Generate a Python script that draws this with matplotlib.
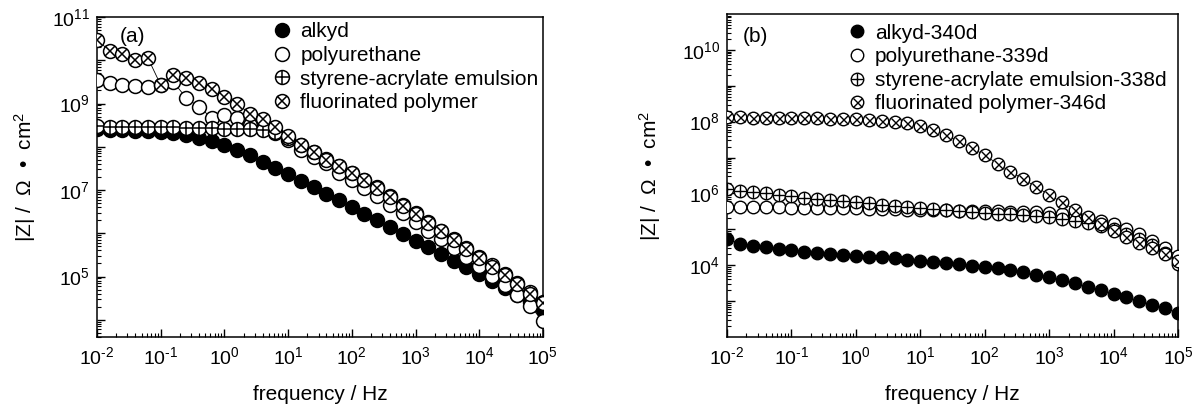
import matplotlib
matplotlib.use("Agg")
import matplotlib.pyplot as plt
from matplotlib.lines import Line2D
from matplotlib.legend_handler import HandlerTuple
from matplotlib.ticker import LogLocator, NullFormatter, FixedLocator, FixedFormatter

plt.rcParams['font.family'] = ['Liberation Sans', 'DejaVu Sans']
plt.rcParams['mathtext.fontset'] = 'custom'
plt.rcParams['mathtext.rm'] = 'Liberation Sans'
plt.rcParams['mathtext.it'] = 'Liberation Sans:italic'
plt.rcParams['mathtext.bf'] = 'Liberation Sans:bold'

# measurement frequencies, Hz (5 points per decade)
freq = [0.01, 0.0158, 0.0251, 0.0398, 0.0631,
        0.1, 0.158, 0.251, 0.398, 0.631,
        1, 1.58, 2.51, 3.98, 6.31,
        10, 15.8, 25.1, 39.8, 63.1,
        100, 158, 251, 398, 631,
        1000, 1580, 2510, 3980, 6310,
        1e4, 1.58e4, 2.51e4, 3.98e4, 6.31e4, 1e5]

# (a) initial |Z|, ohm cm^2
alkyd_a = [2.51e8, 2.45e8, 2.40e8, 2.34e8, 2.29e8, 2.19e8, 2.04e8, 1.86e8, 1.62e8, 1.38e8,
           1.10e8, 8.51e7, 6.31e7, 4.47e7, 3.16e7, 2.29e7, 1.62e7, 1.15e7, 8.13e6, 5.75e6,
           4.07e6, 2.82e6, 2.00e6, 1.38e6, 9.77e5, 6.76e5, 4.79e5, 3.31e5, 2.34e5, 1.62e5,
           1.12e5, 7.94e4, 5.50e4, 3.80e4, 2.63e4, 1.66e4]
pu_a = [3.55e9, 2.95e9, 2.75e9, 2.57e9, 2.40e9, 2.69e9, 3.16e9, 1.35e9, 8.32e8, 4.68e8,
        5.50e8, 4.68e8, 3.16e8, 2.69e8, 2.09e8, 1.45e8, 8.51e7, 5.89e7, 4.17e7, 2.51e7,
        1.74e7, 1.12e7, 7.24e6, 4.57e6, 2.88e6, 1.82e6, 1.15e6, 7.24e5, 4.57e5, 2.82e5,
        1.74e5, 1.05e5, 6.31e4, 3.72e4, 2.09e4, 9.12e3]
sa_a = [2.95e8, 2.88e8, 2.88e8, 2.88e8, 2.82e8, 2.82e8, 2.82e8, 2.75e8, 2.75e8, 2.69e8,
        2.63e8, 2.57e8, 2.51e8, 2.40e8, 2.14e8, 1.58e8, 1.10e8, 7.59e7, 5.13e7, 3.55e7,
        2.51e7, 1.74e7, 1.15e7, 7.24e6, 4.57e6, 2.88e6, 1.82e6, 1.15e6, 7.24e5, 4.57e5,
        2.88e5, 1.82e5, 1.15e5, 7.24e4, 4.37e4, 2.63e4]
fp_a = [2.95e10, 1.66e10, 1.38e10, 1.00e10, 1.12e10, 2.69e9, 4.57e9, 3.89e9, 2.95e9, 2.19e9,
        1.41e9, 1.00e9, 5.75e8, 4.47e8, 2.82e8, 1.74e8, 1.10e8, 7.41e7, 5.01e7, 3.55e7,
        2.51e7, 1.66e7, 1.10e7, 6.92e6, 4.37e6, 2.75e6, 1.74e6, 1.10e6, 6.92e5, 4.37e5,
        2.69e5, 1.70e5, 1.07e5, 6.61e4, 3.98e4, 2.40e4]

# (b) after ~340 days of immersion
alkyd_b = [5.50e4, 3.98e4, 3.47e4, 3.16e4, 2.82e4, 2.57e4, 2.34e4, 2.19e4, 2.04e4, 1.95e4,
           1.86e4, 1.74e4, 1.66e4, 1.55e4, 1.41e4, 1.32e4, 1.23e4, 1.15e4, 1.05e4, 9.77e3,
           8.91e3, 8.13e3, 7.24e3, 6.31e3, 5.37e3, 4.57e3, 3.80e3, 3.09e3, 2.51e3, 2.00e3,
           1.58e3, 1.26e3, 1.00e3, 7.94e2, 6.31e2, 4.79e2]
pu_b = [4.27e5, 4.17e5, 4.17e5, 4.07e5, 4.07e5, 3.98e5, 3.98e5, 3.89e5, 3.89e5, 3.80e5,
        3.80e5, 3.72e5, 3.72e5, 3.63e5, 3.55e5, 3.55e5, 3.47e5, 3.39e5, 3.31e5, 3.24e5,
        3.16e5, 3.16e5, 3.09e5, 3.02e5, 2.95e5, 2.82e5, 2.63e5, 2.40e5, 2.09e5, 1.74e5,
        1.38e5, 1.02e5, 7.24e4, 4.79e4, 3.02e4, 1.78e4]
sa_b = [1.32e6, 1.17e6, 1.07e6, 1.00e6, 9.12e5, 8.32e5, 7.59e5, 7.08e5, 6.46e5, 6.03e5,
        5.62e5, 5.25e5, 4.90e5, 4.57e5, 4.27e5, 3.98e5, 3.72e5, 3.47e5, 3.24e5, 3.02e5,
        2.88e5, 2.75e5, 2.63e5, 2.45e5, 2.29e5, 2.14e5, 1.95e5, 1.74e5, 1.51e5, 1.26e5,
        1.00e5, 7.59e4, 5.50e4, 3.72e4, 2.14e4, 1.05e4]
fp_b = [1.32e8, 1.32e8, 1.29e8, 1.29e8, 1.26e8, 1.26e8, 1.23e8, 1.23e8, 1.20e8, 1.17e8,
        1.15e8, 1.12e8, 1.07e8, 1.00e8, 9.12e7, 7.59e7, 5.89e7, 4.17e7, 2.82e7, 1.86e7,
        1.15e7, 6.76e6, 4.07e6, 2.51e6, 1.51e6, 9.12e5, 5.62e5, 3.55e5, 2.19e5, 1.38e5,
        8.91e4, 6.03e4, 4.17e4, 2.95e4, 2.00e4, 1.32e4]

labels_a = ["alkyd", "polyurethane", "styrene-acrylate emulsion", "fluorinated polymer"]
labels_b = ["alkyd-340d", "polyurethane-339d", "styrene-acrylate emulsion-338d",
            "fluorinated polymer-346d"]
kinds = ["filled", "open", "plus", "cross"]

FS = 14
LFS = 15


def pow_label(k):
    # short hyphen in the exponent, as in the printed axis
    s = str(k).replace('-', '\u2010')
    return r'$10^{%s}$' % s


def marker_parts(kind, ms, mew):
    """Return the Line2D style dicts that make up one composite marker."""
    base = dict(marker='o', ms=ms, mec='k', mew=mew, ls='none')
    if kind == "filled":
        return [dict(base, mfc='k')]
    if kind == "open":
        return [dict(base, mfc='white')]
    if kind == "plus":
        return [dict(base, mfc='white'), dict(marker='+', ms=ms, mec='k', mew=mew, ls='none')]
    return [dict(base, mfc='white'), dict(marker='x', ms=ms * 0.72, mec='k', mew=mew, ls='none')]


def draw_panel(ax, series, labels, ms, mew, ylim, major, labelled, tag, tagpos, legpos):
    handles = []
    for i, (z, kind) in enumerate(zip(series, kinds)):
        ax.plot(freq, z, '-', color='k', lw=0.6, zorder=2 + i)
        parts = marker_parts(kind, ms, mew)
        for p in parts:
            ax.plot(freq, z, zorder=2 + i, **p)
        h = tuple(Line2D([], [], **p) for p in parts)
        handles.append(h)

    ax.set_xscale('log')
    ax.set_yscale('log')
    ax.set_xlim(1e-2, 1e5)
    ax.set_ylim(*ylim)

    xt = [10.0 ** k for k in range(-2, 6)]
    ax.xaxis.set_major_locator(FixedLocator(xt))
    ax.xaxis.set_major_formatter(FixedFormatter([pow_label(k) for k in range(-2, 6)]))
    ax.xaxis.set_minor_locator(LogLocator(base=10, subs=range(2, 10), numticks=50))
    ax.xaxis.set_minor_formatter(NullFormatter())

    yt = [10.0 ** k for k in major]
    ax.yaxis.set_major_locator(FixedLocator(yt))
    ax.yaxis.set_major_formatter(FixedFormatter(
        [pow_label(k) if k in labelled else '' for k in major]))
    ax.yaxis.set_minor_locator(LogLocator(base=10, subs=range(2, 10), numticks=50))
    ax.yaxis.set_minor_formatter(NullFormatter())

    ax.tick_params(which='both', direction='in', top=False, right=False, labelsize=FS)
    ax.tick_params(which='major', length=6, width=1.0)
    ax.tick_params(which='minor', length=3, width=0.8)
    ax.tick_params(axis='x', pad=7)
    ax.tick_params(axis='y', pad=5)
    for s in ax.spines.values():
        s.set_linewidth(1.1)

    ax.text(tagpos[0], tagpos[1], tag, transform=ax.transAxes, fontsize=LFS,
            ha='left', va='center')

    ax.legend(handles=handles, labels=labels, handler_map={tuple: HandlerTuple(ndivide=1)},
              loc='upper left', bbox_to_anchor=legpos, frameon=False, fontsize=LFS,
              numpoints=1, handlelength=0.95, handletextpad=0.4, labelspacing=0.22,
              borderpad=0.0, borderaxespad=0.0)

    ax.set_xlabel('frequency / Hz', fontsize=LFS)
    ax.set_ylabel(r'|Z| /  $\Omega$  •  cm$^2$', fontsize=LFS)


fig = plt.figure(figsize=(11.93, 4.05), dpi=100)
ax_a = fig.add_axes([0.0813, 0.168, 0.3738, 0.790])
ax_b = fig.add_axes([0.6094, 0.168, 0.3780, 0.7975])

draw_panel(ax_a, [alkyd_a, pu_a, sa_a, fp_a], labels_a, ms=10, mew=1.1,
           ylim=(4e3, 1e11), major=range(4, 12), labelled=(5, 7, 9, 11),
           tag='(a)', tagpos=(0.052, 0.94), legpos=(0.393, 0.983))
draw_panel(ax_b, [alkyd_b, pu_b, sa_b, fp_b], labels_b, ms=9, mew=1.0,
           ylim=(1e2, 1e11), major=range(3, 11), labelled=(4, 6, 8, 10),
           tag='(b)', tagpos=(0.035, 0.93), legpos=(0.266, 0.97))

ax_a.xaxis.set_label_coords(0.5, -0.15)
ax_b.xaxis.set_label_coords(0.5, -0.15)
ax_a.yaxis.set_label_coords(-0.132, 0.5)
ax_b.yaxis.set_label_coords(-0.142, 0.5)

fig.savefig('out.png', dpi=100, facecolor='white')
